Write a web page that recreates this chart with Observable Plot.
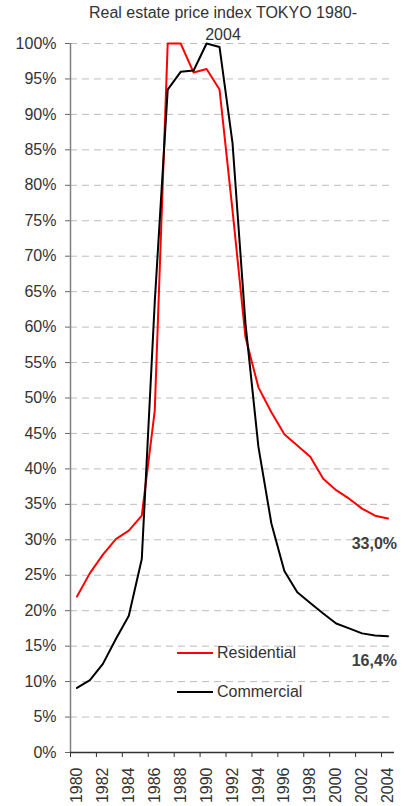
<!DOCTYPE html>
<html>
<head>
<meta charset="utf-8">
<script src="https://cdn.jsdelivr.net/npm/d3@7"></script>
<script src="https://cdn.jsdelivr.net/npm/@observablehq/plot@0.6"></script>
<style>
  html, body { margin: 0; padding: 0; background: #fff; }
  #wrap { position: relative; width: 405px; height: 806px; font-family: "Liberation Sans", Arial, sans-serif; }
  #title { position: absolute; left: 0; width: 446px; top: 2px; text-align: center; font-size: 16px; line-height: 22px; color: #333; z-index: 2; }
  .leg { position: absolute; display: flex; align-items: center; font-size: 16px; line-height: 18px; color: #333; z-index: 2; }
  .leg span.sw { display: inline-block; width: 36px; height: 2px; margin-right: 4px; }
  svg { position: absolute; left: 0; top: 0; }
</style>
</head>
<body>
<div id="wrap">
  <div id="title">Real estate price index TOKYO 1980-<br>2004</div>
  <div class="leg" style="left:177px; top:644px;"><span class="sw" style="background:#ff0000"></span>Residential</div>
  <div class="leg" style="left:177px; top:683px;"><span class="sw" style="background:#000"></span>Commercial</div>
</div>
<script>
const years = [1980,1981,1982,1983,1984,1985,1986,1987,1988,1989,1990,1991,1992,1993,1994,1995,1996,1997,1998,1999,2000,2001,2002,2003,2004];
const residential = [22.0,25.3,27.9,30.1,31.3,33.4,48.2,100,100,95.9,96.4,93.5,76.5,58.6,51.5,48.0,44.9,43.3,41.7,38.6,37.0,35.8,34.4,33.4,33.0];
const commercial = [9.1,10.2,12.5,16.0,19.3,27.3,63.5,93.5,96.0,96.2,100,99.5,86.0,60.5,43.1,32.3,25.6,22.6,21.1,19.6,18.2,17.5,16.8,16.5,16.4];
const yTicks = [0,5,10,15,20,25,30,35,40,45,50,55,60,65,70,75,80,85,90,95,100];
const xLabelYears = [1980,1982,1984,1986,1988,1990,1992,1994,1996,1998,2000,2002,2004];

const resData = years.map((y, i) => ({year: y, value: residential[i]}));
const comData = years.map((y, i) => ({year: y, value: commercial[i]}));
const xBounds = xLabelYears.map(y => y - 0.5);
const xMin = years[0] - 0.5, xMax = years[years.length - 1] + 0.5;
const fmt = v => v.toFixed(1).replace(".", ",") + "%";
const endLabels = [
  {year: years[years.length-1], value: residential[residential.length-1]},
  {year: years[years.length-1], value: commercial[commercial.length-1]}
];

const chart = Plot.plot({
  width: 405,
  height: 806,
  marginLeft: 70,
  marginRight: 11,
  marginTop: 43,
  marginBottom: 54,
  style: {fontFamily: '"Liberation Sans", Arial, sans-serif', fontSize: "16px", color: "#333", background: "transparent"},
  x: {domain: [xMin, xMax]},
  y: {domain: [0, 100]},
  marks: [
    Plot.gridY(yTicks.filter(d => d > 0), {stroke: "#bdbdbd", strokeOpacity: 1, strokeDasharray: "7,5", strokeWidth: 1}),
    Plot.axisY({ticks: yTicks, tickFormat: d => d + "%", tickSize: 5, tickPadding: 9, label: null, stroke: "#666", fill: "#333", fontSize: 16}),
    Plot.axisX({ticks: xBounds, tickFormat: () => "", tickSize: 5, label: null, stroke: "#333"}),
    Plot.axisX({ticks: xLabelYears, tickFormat: d => String(d), tickSize: 0, tickPadding: 15, tickRotate: -90, label: null, fill: "#333", fontSize: 16}),
    Plot.ruleX([xMin], {stroke: "#808080", strokeWidth: 1.5}),
    Plot.ruleY([0], {stroke: "#333", strokeWidth: 1.5}),
    Plot.line(resData, {x: "year", y: "value", stroke: "#ff0000", strokeWidth: 2}),
    Plot.line(comData, {x: "year", y: "value", stroke: "#000", strokeWidth: 2}),
    Plot.text(endLabels, {x: "year", y: "value", text: d => fmt(d.value), textAnchor: "end", dx: 9, dy: 25, fontWeight: "bold", fill: "#404040", fontSize: 16})
  ]
});
document.getElementById("wrap").appendChild(chart);
</script>
</body>
</html>
